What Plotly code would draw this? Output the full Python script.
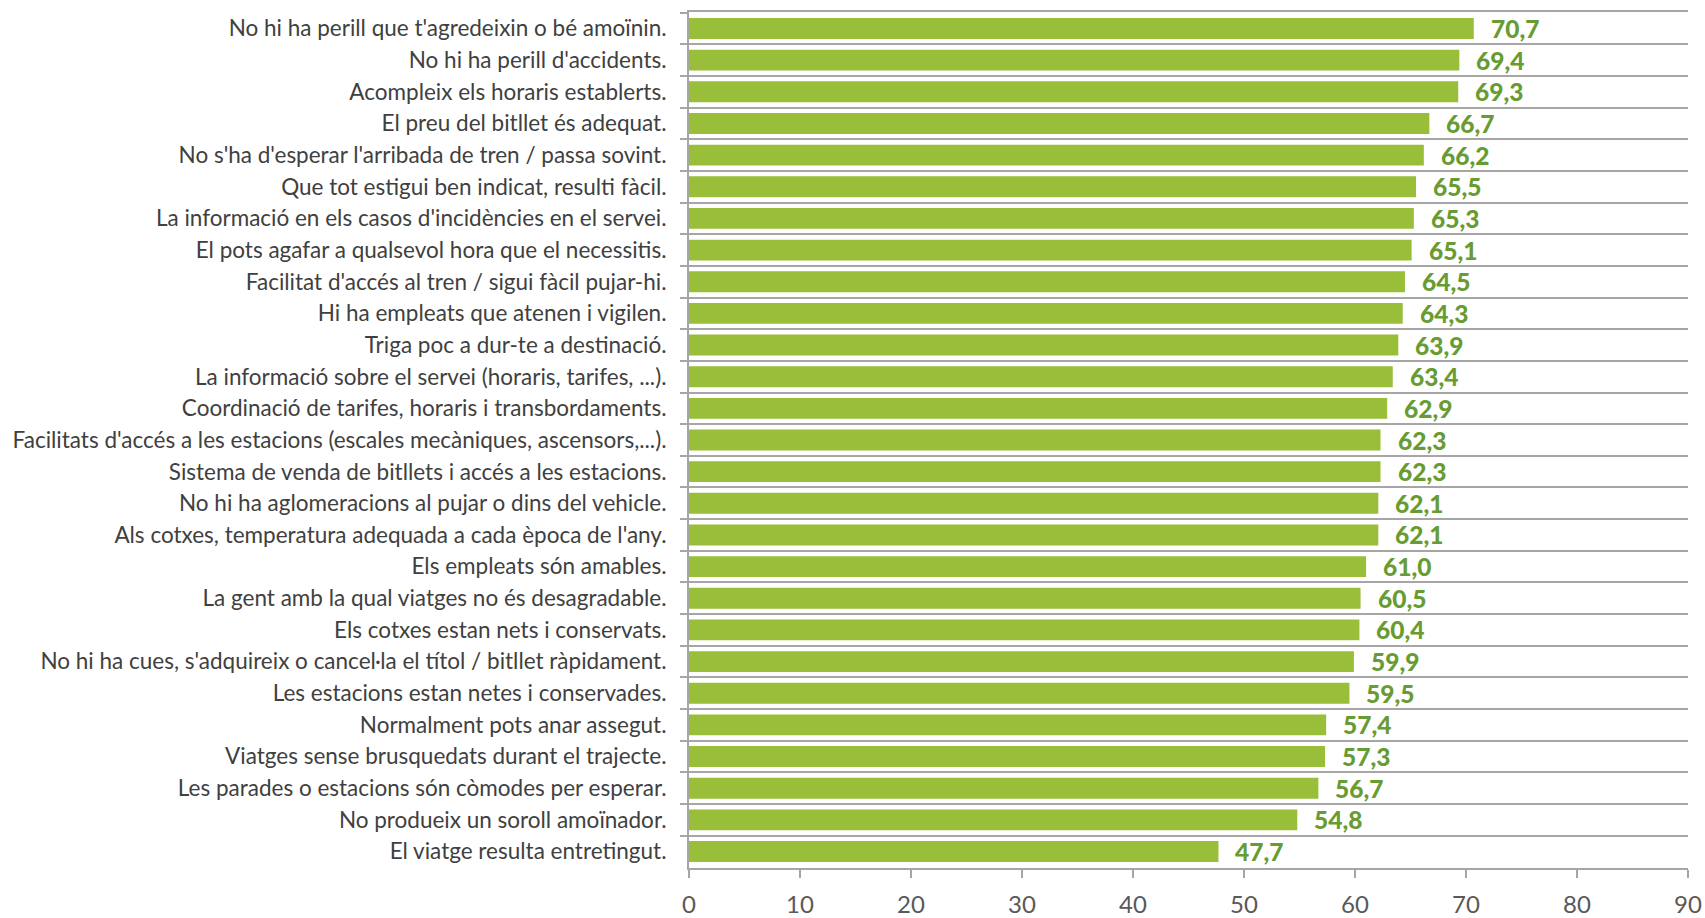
import plotly.graph_objects as go

# Valoració dels atributs del servei (índex 0-100)
categories = [
    "No hi ha perill que t'agredeixin o bé amoïnin.",
    "No hi ha perill d'accidents.",
    "Acompleix els horaris establerts.",
    "El preu del bitllet és adequat.",
    "No s'ha d'esperar l'arribada de tren / passa sovint.",
    "Que tot estigui ben indicat, resulti fàcil.",
    "La informació en els casos d'incidències en el servei.",
    "El pots agafar a qualsevol hora que el necessitis.",
    "Facilitat d'accés al tren / sigui fàcil pujar-hi.",
    "Hi ha empleats que atenen i vigilen.",
    "Triga poc a dur-te a destinació.",
    "La informació sobre el servei (horaris, tarifes, ...).",
    "Coordinació de tarifes, horaris i transbordaments.",
    "Facilitats d'accés a les estacions (escales mecàniques, ascensors,...).",
    "Sistema de venda de bitllets i accés a les estacions.",
    "No hi ha aglomeracions al pujar o dins del vehicle.",
    "Als cotxes, temperatura adequada a cada època de l'any.",
    "Els empleats són amables.",
    "La gent amb la qual viatges no és desagradable.",
    "Els cotxes estan nets i conservats.",
    "No hi ha cues, s'adquireix o cancel·la el títol / bitllet ràpidament.",
    "Les estacions estan netes i conservades.",
    "Normalment pots anar assegut.",
    "Viatges sense brusquedats durant el trajecte.",
    "Les parades o estacions són còmodes per esperar.",
    "No produeix un soroll amoïnador.",
    "El viatge resulta entretingut.",
]
values = [70.7, 69.4, 69.3, 66.7, 66.2, 65.5, 65.3, 65.1, 64.5, 64.3, 63.9, 63.4,
          62.9, 62.3, 62.3, 62.1, 62.1, 61.0, 60.5, 60.4, 59.9, 59.5, 57.4, 57.3,
          56.7, 54.8, 47.7]
x_ticks = [0, 10, 20, 30, 40, 50, 60, 70, 80, 90]

BAR_GREEN = "#98BE3A"
LABEL_GREEN = "#689C32"
GRID_GREY = "#A6A6A6"
FONT = "Lato"

fig = go.Figure()
fig.add_trace(go.Bar(
    x=values,
    y=categories,
    orientation="h",
    marker=dict(color=BAR_GREEN, line=dict(width=0)),
    hoverinfo="skip",
))

for cat, val in zip(categories, values):
    fig.add_annotation(
        x=val, y=cat, xref="x", yref="y",
        text=f"{val:.1f}".replace(".", ","),
        showarrow=False, xanchor="left", yanchor="middle",
        xshift=15, yshift=0,
        font=dict(family=FONT, size=24.5, color=LABEL_GREEN, weight=900),
    )

fig.update_layout(
    width=1705, height=918,
    margin=dict(l=689, r=17, t=12, b=50),
    paper_bgcolor="white", plot_bgcolor="white",
    bargap=0.34,
    showlegend=False,
    font=dict(family=FONT),
)

fig.update_xaxes(
    automargin=False,
    range=[0, 90], tickvals=x_ticks,
    showgrid=False, zeroline=False,
    showline=True, mirror=True, linecolor=GRID_GREY, linewidth=2,
    ticks="outside", ticklen=8, tickwidth=2, tickcolor=GRID_GREY,
    ticklabelstandoff=6,
    tickfont=dict(family=FONT, size=24, color="#595959"),
)

fig.update_yaxes(
    automargin=False,
    type="category",
    categoryorder="array", categoryarray=categories,
    autorange="reversed",
    tickson="boundaries",
    showgrid=True, gridcolor=GRID_GREY, gridwidth=2,
    showline=True, linecolor=GRID_GREY, linewidth=2,
    ticks="outside", ticklen=7, tickwidth=2, tickcolor=GRID_GREY,
    ticklabelstandoff=16,
    tickfont=dict(family=FONT, size=22.5, color="#404040"),
)

fig.write_html("out.html")
